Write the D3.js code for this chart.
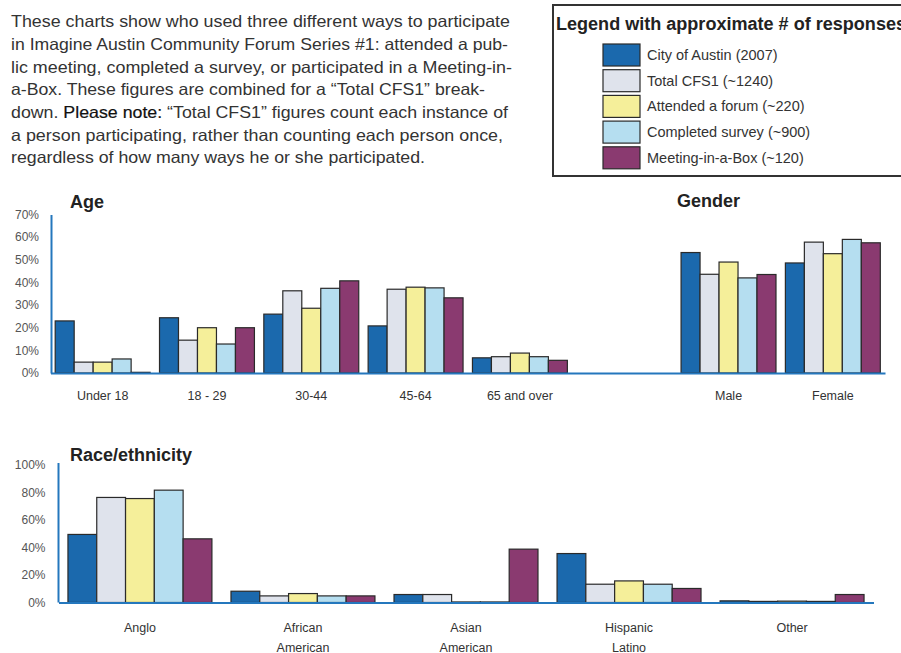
<!DOCTYPE html>
<html><head><meta charset="utf-8">
<script src="https://cdn.jsdelivr.net/npm/d3@7/dist/d3.min.js"></script>
<style>
html,body{margin:0;padding:0;background:#fff;}
svg{display:block;font-family:"Liberation Sans",Arial,sans-serif;}
</style></head>
<body>
<svg id="c" width="901" height="653"></svg>
<script>
// ---------- DATA ----------
const seriesNames = ["City of Austin (2007)", "Total CFS1 (~1240)", "Attended a forum (~220)", "Completed survey (~900)", "Meeting-in-a-Box (~120)"];
const seriesColors = ["#1b69ad", "#dfe3ec", "#f5ef9a", "#b5def0", "#8a3a70"];

const ageCategories = ["Under 18", "18 - 29", "30-44", "45-64", "65 and over"];
const genderCategories = ["Male", "Female"];
const topTicks = [0, 10, 20, 30, 40, 50, 60, 70];

const cityAge   = [23.0, 24.4, 26.0, 20.8, 6.7];
const totalAge  = [4.8, 14.5, 36.3, 37.0, 7.2];
const forumAge  = [4.8, 20.0, 28.6, 37.9, 8.8];
const surveyAge = [6.2, 12.8, 37.4, 37.6, 7.2];
const boxAge    = [0.3, 20.0, 40.7, 33.2, 5.6];

const cityGender   = [53.2, 48.6];
const totalGender  = [43.6, 57.8];
const forumGender  = [49.0, 52.7];
const surveyGender = [42.0, 59.0];
const boxGender    = [43.5, 57.5];

const raceCategories = ["Anglo", "African American", "Asian American", "Hispanic Latino", "Other"];
const raceLabelLines = [["Anglo"], ["African", "American"], ["Asian", "American"], ["Hispanic", "Latino"], ["Other"]];
const raceTicks = [0, 20, 40, 60, 80, 100];
const cityRace   = [49.5, 8.2, 5.8, 35.6, 1.2];
const totalRace  = [76.4, 4.8, 5.8, 13.3, 0.8];
const forumRace  = [75.6, 6.5, 0.4, 15.7, 1.0];
const surveyRace = [81.7, 4.8, 0.4, 13.3, 0.8];
const boxRace    = [46.3, 4.8, 38.8, 10.2, 5.8];

const introLines = [
  "These charts show who used three different ways to participate",
  "in Imagine Austin Community Forum Series #1: attended a pub-",
  "lic meeting, completed a survey, or participated in a Meeting-in-",
  "a-Box. These figures are combined for a \u201CTotal CFS1\u201D break-",
  "down. |Please note:| \u201CTotal CFS1\u201D figures count each instance of",
  "a person participating, rather than counting each person once,",
  "regardless of how many ways he or she participated."
];
const introWidths = [499, 497, 501, 474, 497, 492, 414];

// ---------- DRAW ----------
const svg = d3.select("#c");
const axisColor = "#2477bd";
const barStroke = "#2a2a2a";

// intro paragraph
const intro = svg.append("g");
introLines.forEach((ln, i) => {
  const t = intro.append("text")
    .attr("x", 11).attr("y", 27.3 + i * 22.67)
    .attr("font-size", 16.5).attr("fill", "#333")
    .attr("textLength", introWidths[i]).attr("lengthAdjust", "spacingAndGlyphs");
  ln.split("|").forEach((part, j) => {
    const ts = t.append("tspan").text(part);
    if (j === 1) ts.attr("fill", "#111").attr("stroke", "#111").attr("stroke-width", 0.2);
  });
});

// legend
const leg = svg.append("g");
leg.append("rect").attr("x", 553).attr("y", 5).attr("width", 360).attr("height", 171)
  .attr("fill", "#fff").attr("stroke", "#333").attr("stroke-width", 2);
leg.append("text").attr("x", 556).attr("y", 30).attr("font-size", 17.5).attr("font-weight", "bold")
  .attr("fill", "#222").attr("textLength", 350).attr("lengthAdjust", "spacingAndGlyphs")
  .text("Legend with approximate # of responses");
seriesNames.forEach((n, i) => {
  const y0 = 44 + i * 25.7;
  leg.append("rect").attr("x", 603).attr("y", y0).attr("width", 37).attr("height", 22)
    .attr("fill", seriesColors[i]).attr("stroke", barStroke).attr("stroke-width", 1.2);
  leg.append("text").attr("x", 647).attr("y", y0 + 16).attr("font-size", 14.5).attr("fill", "#333").text(n);
});

function drawBars(g, x, y, cats, seriesVals) {
  const inner = d3.scaleBand().domain(d3.range(seriesVals.length)).range([0, x.bandwidth()]);
  const groups = g.selectAll("g.grp").data(cats.map((c, ci) => ({c, ci}))).join("g")
    .attr("class", "grp").attr("transform", d => `translate(${x(d.c)},0)`);
  groups.selectAll("rect").data(d => seriesVals.map((arr, si) => ({si, v: arr[d.ci]}))).join("rect")
    .attr("x", d => inner(d.si)).attr("width", inner.bandwidth())
    .attr("y", d => y(d.v)).attr("height", d => y(0) - y(d.v))
    .attr("fill", d => seriesColors[d.si]).attr("stroke", barStroke).attr("stroke-width", 1.2);
}

// ---------- top chart: Age + Gender ----------
const topSlots = [...ageCategories, "_gap", ...genderCategories];
const xTop = d3.scaleBand().domain(topSlots).range([50.5, 885]).paddingInner(0.09).paddingOuter(0.045);
const yTop = d3.scaleLinear().domain([0, 70]).range([373, 214.5]);
const topG = svg.append("g");

drawBars(topG.append("g"), xTop, yTop, ageCategories, [cityAge, totalAge, forumAge, surveyAge, boxAge]);
drawBars(topG.append("g"), xTop, yTop, genderCategories, [cityGender, totalGender, forumGender, surveyGender, boxGender]);

const yAxTop = topG.append("g").attr("transform", "translate(51,0)")
  .call(d3.axisLeft(yTop).tickValues(topTicks).tickSize(0).tickPadding(12).tickFormat(d => d + "%"));
yAxTop.select(".domain").attr("stroke", axisColor).attr("stroke-width", 2);
yAxTop.selectAll("text").attr("font-size", 12).attr("fill", "#555").attr("font-family", "Liberation Sans, Arial");

const xAxTop = topG.append("g").attr("transform", "translate(0,373)")
  .call(d3.axisBottom(xTop).tickSize(0).tickSizeOuter(0).tickFormat(d => d === "_gap" ? "" : d));
xAxTop.select(".domain").attr("stroke", axisColor).attr("stroke-width", 2);
xAxTop.selectAll("text").attr("font-size", 12.5).attr("fill", "#333").attr("dy", null).attr("y", 27)
  .attr("font-family", "Liberation Sans, Arial");

topG.append("text").attr("x", 70).attr("y", 208).attr("font-size", 18).attr("font-weight", "bold").attr("fill", "#222").text("Age");
topG.append("text").attr("x", 677).attr("y", 207).attr("font-size", 18).attr("font-weight", "bold").attr("fill", "#222").text("Gender");

// ---------- bottom chart: Race ----------
const xRace = d3.scaleBand().domain(raceCategories).range([58.5, 873.5]).paddingInner(0.117).paddingOuter(0.058);
const yRace = d3.scaleLinear().domain([0, 100]).range([602.5, 465]);
const raceG = svg.append("g");

drawBars(raceG.append("g"), xRace, yRace, raceCategories, [cityRace, totalRace, forumRace, surveyRace, boxRace]);

const yAxRace = raceG.append("g").attr("transform", "translate(58.5,0)")
  .call(d3.axisLeft(yRace).tickValues(raceTicks).tickSize(0).tickPadding(13).tickFormat(d => d + "%"));
yAxRace.select(".domain").attr("stroke", axisColor).attr("stroke-width", 2).attr("d", "M0,602.5V463");
yAxRace.selectAll("text").attr("font-size", 12).attr("fill", "#555").attr("font-family", "Liberation Sans, Arial");

const xAxRace = raceG.append("g").attr("transform", "translate(0,602.5)")
  .call(d3.axisBottom(xRace).tickSize(0).tickSizeOuter(0).tickFormat(""));
xAxRace.select(".domain").attr("stroke", axisColor).attr("stroke-width", 2);
xAxRace.selectAll(".tick").each(function(d) {
  const lines = raceLabelLines[raceCategories.indexOf(d)];
  const t = d3.select(this).select("text").attr("dy", null).attr("y", null)
    .attr("font-size", 12.5).attr("fill", "#333").attr("font-family", "Liberation Sans, Arial");
  lines.forEach((l, i) => t.append("tspan").attr("x", 0).attr("y", 29.5 + i * 19.5).text(l));
});

raceG.append("text").attr("x", 70).attr("y", 461).attr("font-size", 18).attr("font-weight", "bold").attr("fill", "#222").text("Race/ethnicity");
</script>
</body></html>
